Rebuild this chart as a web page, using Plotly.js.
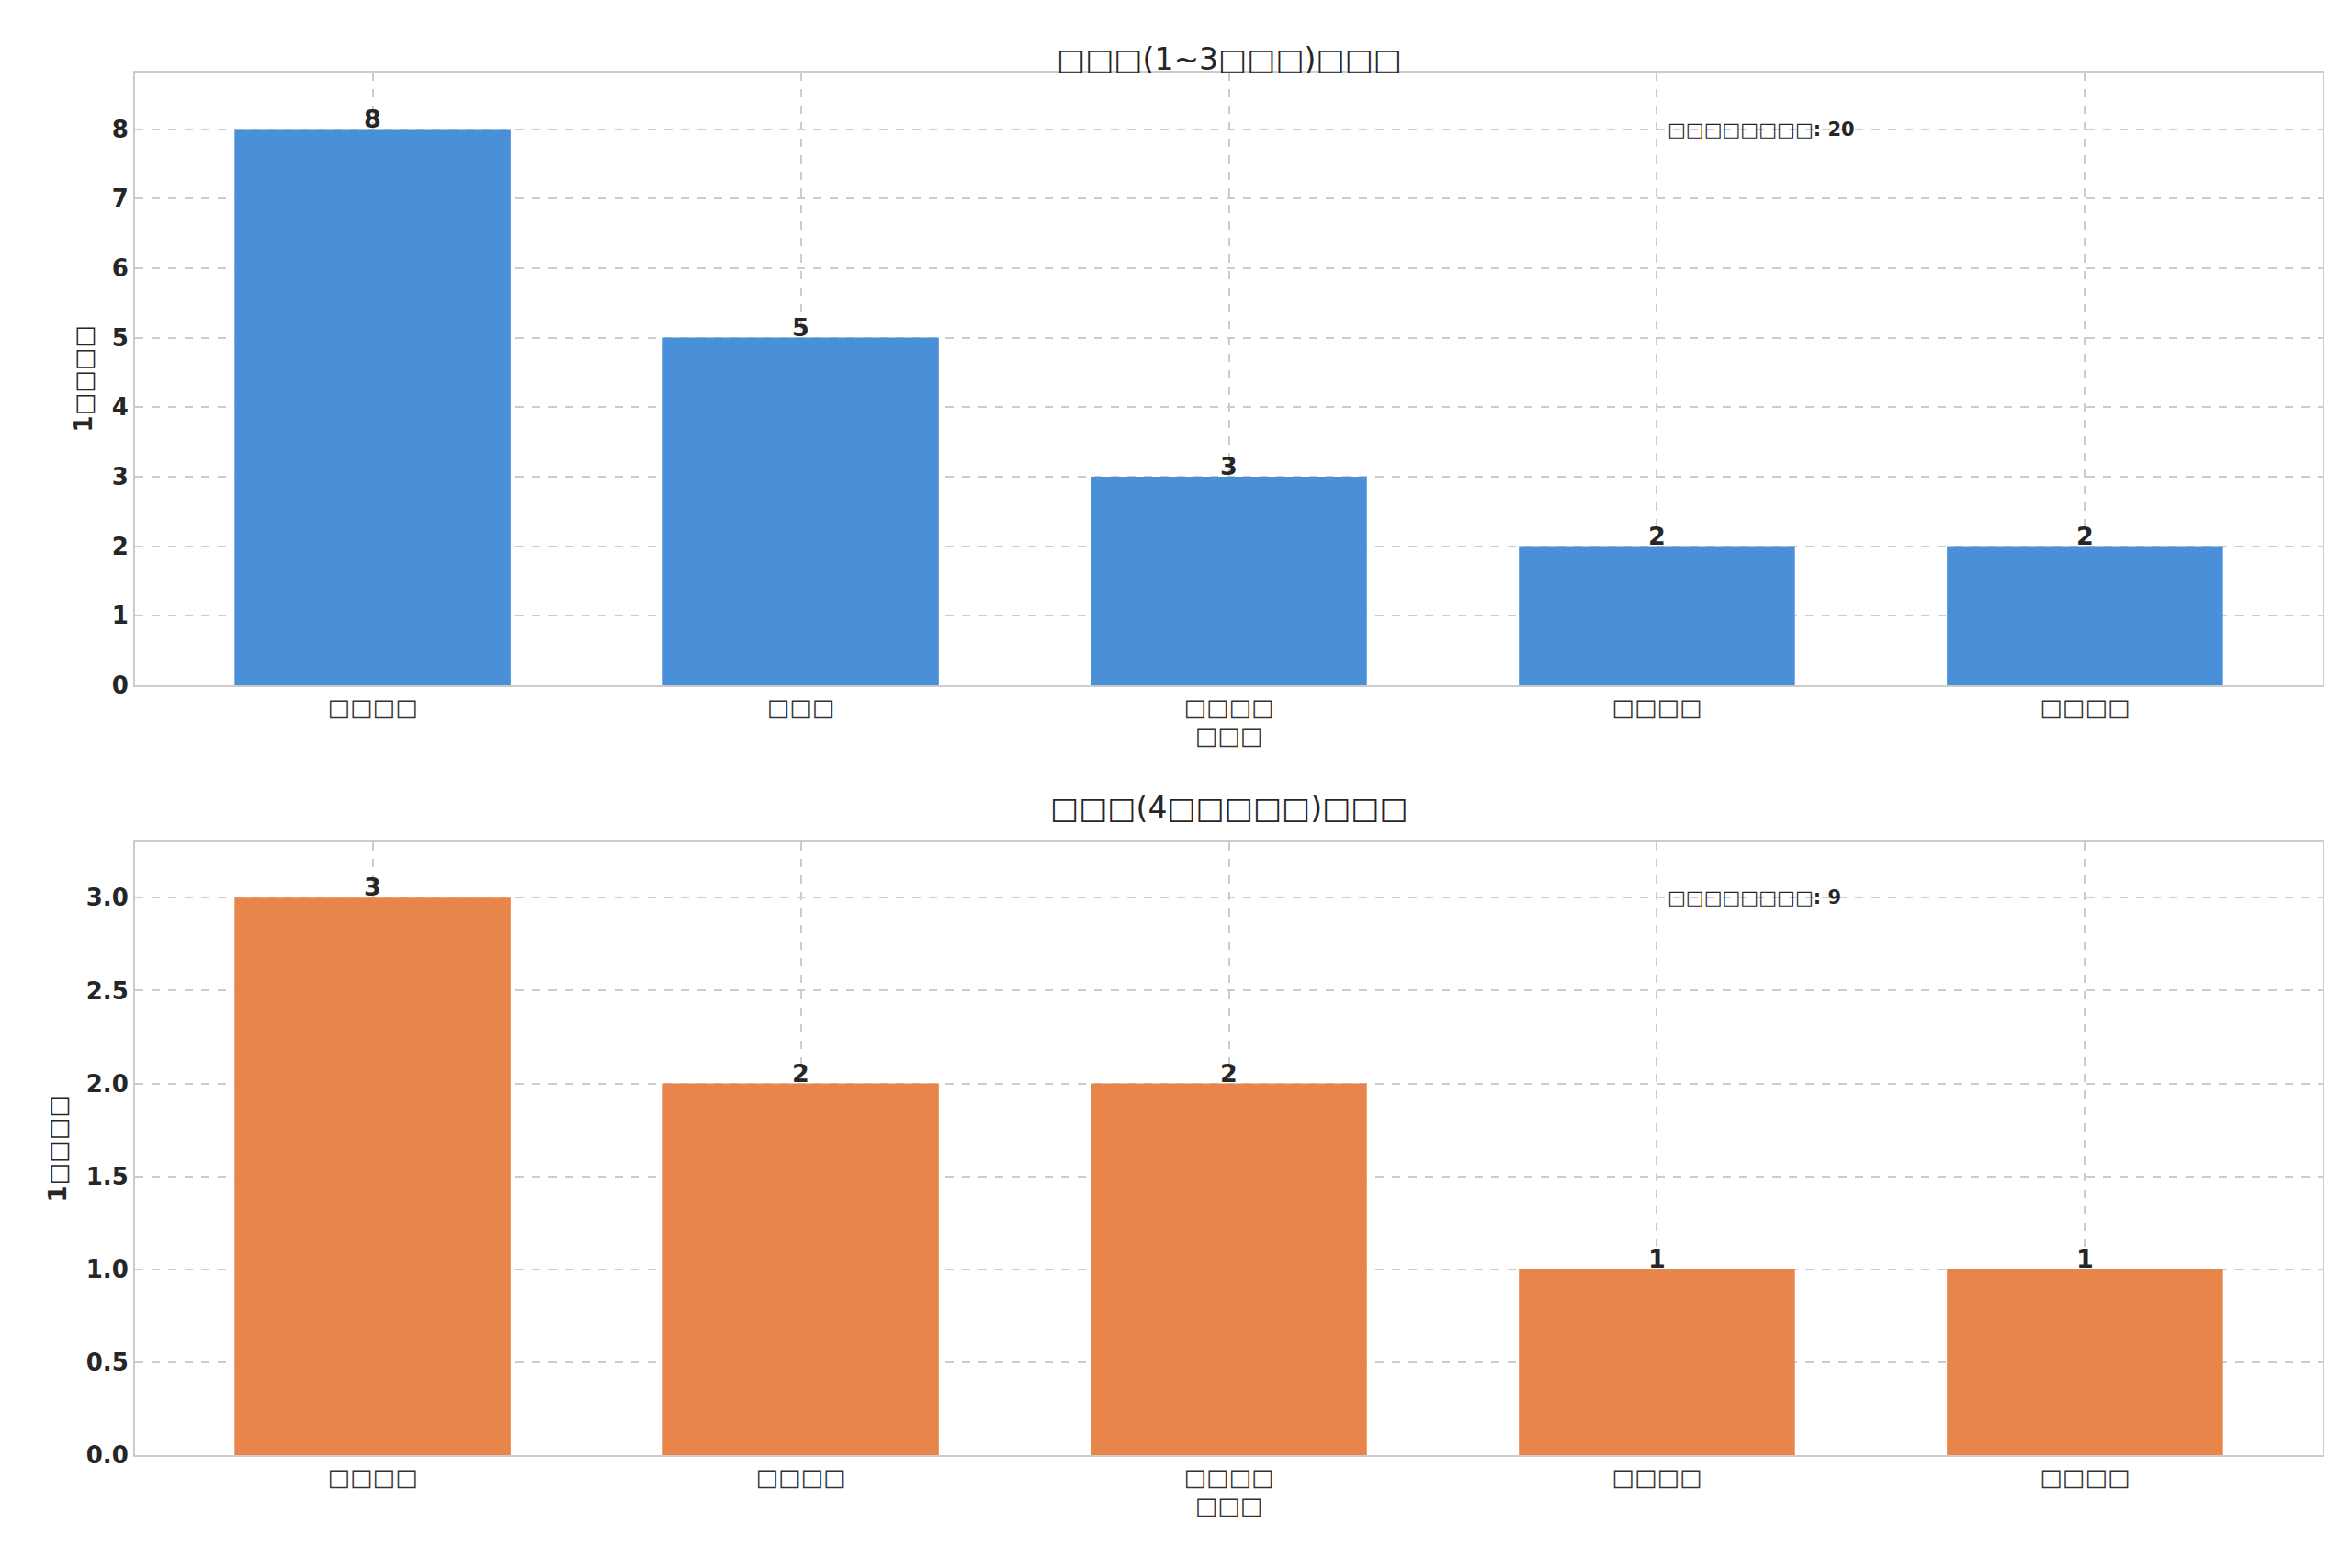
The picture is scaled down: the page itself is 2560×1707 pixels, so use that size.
<!DOCTYPE html>
<html>
<head>
<meta charset="utf-8">
<script src="https://cdn.plot.ly/plotly-3.0.1.min.js"></script>
<style>body{margin:0;background:#fff}#chart{width:2560px;height:1707px}</style>
</head>
<body>
<div id="chart"></div>
<script>
// glyphs in the source image are missing-font boxes; kept as box characters
let top_labels = ["□□□□", "□□□", "□□□□", "□□□□", "□□□□"];
let top_values = [8, 5, 3, 2, 2];
let bottom_labels = ["□□□□", "□□□□", "□□□□", "□□□□", "□□□□"];
let bottom_values = [3, 2, 2, 1, 1];
let top_title = "□□□(1~3□□□)□□□";
let bottom_title = "□□□(4□□□□□)□□□";
let x_title = "□□□";
let y_title = "1□□□□";
let top_note = "□□□□□□□□: 20";
let bottom_note = "□□□□□□□□: 9";

let idx = top_values.map((v, i) => i);
let font = "DejaVu Sans, sans-serif";

function makeBar(y, color, xa, ya) {
    return { x: idx, y: y, type: "bar", width: 0.645, marker: { color: color }, xaxis: xa, yaxis: ya, hoverinfo: "skip" };
}

function xAxis(labels, anchor) {
    return {
        anchor: anchor, range: [-0.555, 4.555], tickvals: idx, ticktext: labels,
        showgrid: true, gridcolor: "#cccccc", griddash: "dash", gridwidth: 2,
        showline: true, linecolor: "#cccccc", linewidth: 2, mirror: true,
        ticks: "", tickfont: { size: 26, color: "#333333" }, zeroline: false,
        title: { text: x_title, font: { size: 26, color: "#333333" }, standoff: 8 }
    };
}

function yAxis(range, domain, anchor, fmt, dtick) {
    return {
        anchor: anchor, domain: domain, range: range, dtick: dtick, tickformat: fmt,
        showgrid: true, gridcolor: "#cccccc", griddash: "dash", gridwidth: 2,
        showline: true, linecolor: "#cccccc", linewidth: 2, mirror: true,
        ticks: "", zeroline: false,
        tickfont: { size: 26, color: "#262626", family: font, weight: "bold" },
        title: { text: y_title, font: { size: 26, color: "#262626", weight: "bold" }, standoff: 14 }
    };
}

let data = [
    makeBar(top_values, "#4a90d9", "x", "y"),
    makeBar(bottom_values, "#e8854a", "x2", "y2")
];

let annotations = [];
top_values.forEach((v, i) => annotations.push({ x: i, y: v, xref: "x", yref: "y", text: String(v), showarrow: false, yanchor: "bottom", yshift: -6, font: { size: 27, color: "#262626", weight: "bold" } }));
bottom_values.forEach((v, i) => annotations.push({ x: i, y: v, xref: "x2", yref: "y2", text: String(v), showarrow: false, yanchor: "bottom", yshift: -6, font: { size: 27, color: "#262626", weight: "bold" } }));
annotations.push({ x: 3.02, y: 8, xref: "x", yref: "y", text: top_note, showarrow: false, xanchor: "left", font: { size: 21, color: "#262626", weight: "bold" } });
annotations.push({ x: 3.02, y: 3, xref: "x2", yref: "y2", text: bottom_note, showarrow: false, xanchor: "left", font: { size: 21, color: "#262626", weight: "bold" } });
annotations.push({ x: 0.5, y: 0.975, xref: "paper", yref: "paper", text: top_title, showarrow: false, xanchor: "center", font: { size: 33, color: "#262626" } });
annotations.push({ x: 0.5, y: 0.4845, xref: "paper", yref: "paper", text: bottom_title, showarrow: false, xanchor: "center", font: { size: 33, color: "#262626" } });

let layout = {
    width: 2560, height: 1707, showlegend: false,
    paper_bgcolor: "#ffffff", plot_bgcolor: "#ffffff",
    font: { family: font, color: "#262626" },
    margin: { l: 147, r: 32, t: 0, b: 0 },
    xaxis: xAxis(top_labels, "y"),
    yaxis: yAxis([0, 8.82], [0.563, 0.954], "x", "", 1),
    xaxis2: xAxis(bottom_labels, "y2"),
    yaxis2: yAxis([0, 3.3], [0.072, 0.463], "x2", ".1f", 0.5),
    annotations: annotations
};

Plotly.newPlot("chart", data, layout, { staticPlot: true });
</script>
</body>
</html>
